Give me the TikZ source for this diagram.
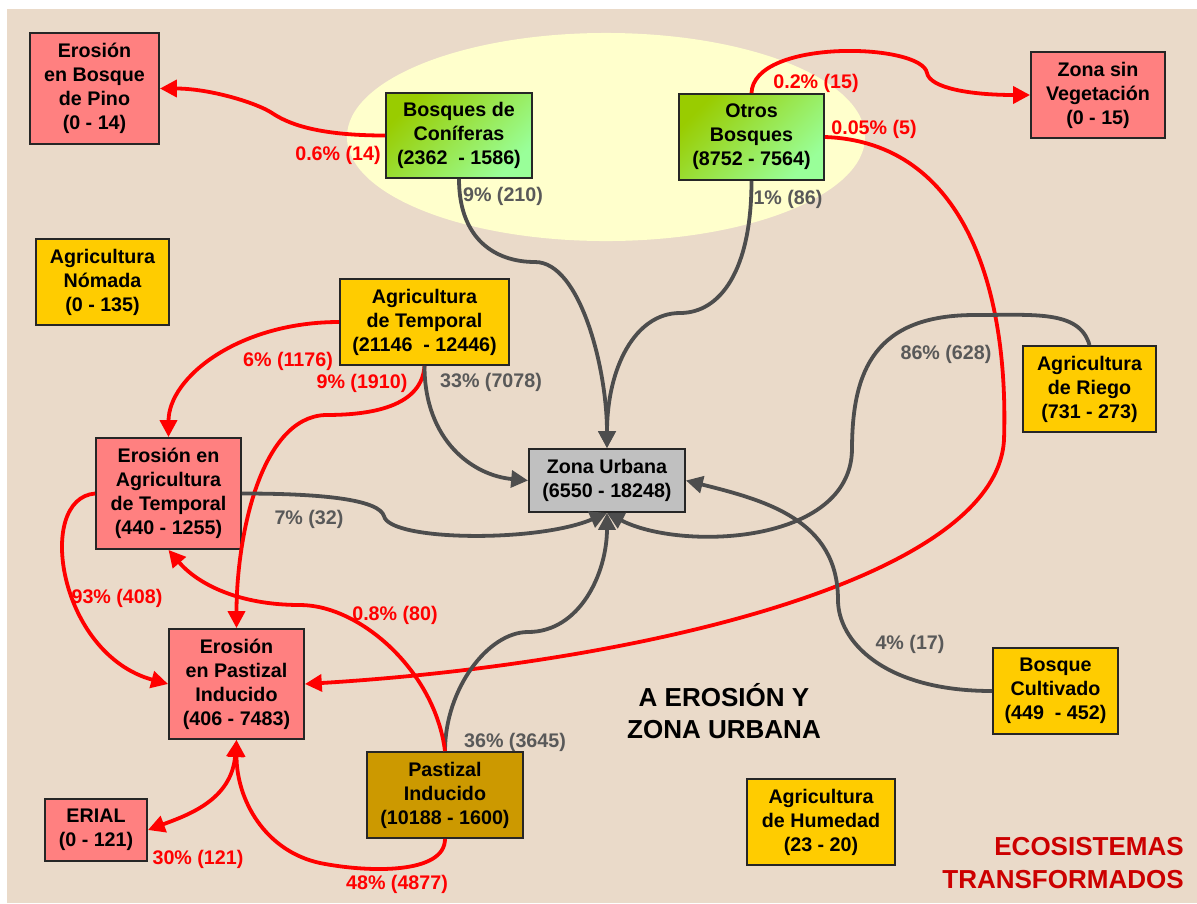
\documentclass[tikz,border=0pt]{standalone}
\usepackage{fontspec}
\setmainfont{Liberation Sans}
\usetikzlibrary{arrows.meta}

\definecolor{fondo}{RGB}{234,218,201}
\definecolor{rosa}{RGB}{255,128,128}
\definecolor{amarillo}{RGB}{255,204,0}
\definecolor{ocre}{RGB}{204,153,0}
\definecolor{urbano}{RGB}{192,192,192}
\definecolor{verdeA}{RGB}{153,204,0}
\definecolor{verdeB}{RGB}{153,255,153}
\definecolor{elipse}{RGB}{255,255,204}
\definecolor{flechagris}{RGB}{77,77,77}
\definecolor{textogris}{RGB}{89,89,89}
\definecolor{titulo}{RGB}{204,0,0}

\tikzset{
  >={Triangle[length=12pt,width=12pt]},
  caja/.style={draw=black!85, line width=1.3pt, align=center, inner sep=0pt,
    font=\fontsize{14}{17}\selectfont\bfseries},
  erosion/.style={caja, fill=rosa},
  agricola/.style={caja, fill=amarillo},
  bosque/.style={caja, top color=verdeA, bottom color=verdeB, shading angle=45},
  flujorojo/.style={draw=red, line width=2.7pt, ->},
  flujogris/.style={draw=flechagris, line width=2.7pt, ->},
  etqroja/.style={text=red, inner sep=0pt, font=\fontsize{14}{17}\selectfont\bfseries},
  etqgris/.style={text=textogris, inner sep=0pt, font=\fontsize{14}{17}\selectfont\bfseries},
}

\begin{document}
\begin{tikzpicture}[x=0.025cm, y=-0.025cm]
\useasboundingbox (0,0) rectangle (1197,903);
\fill[fondo] (7,9) rectangle (1197,903);
\fill[elipse] (606,137) ellipse [x radius=6.475cm, y radius=2.6cm];

% cajas
\node[erosion, minimum width=3.225cm, minimum height=2.775cm] (pino) at (94.5,88.5) {Erosión\\en Bosque\\de Pino\\(0 - 14)};
\node[bosque, minimum width=3.65cm, minimum height=2.125cm] (conif) at (459,135.5) {Bosques de\\Coníferas\\(2362\ \ - 1586)};
\node[bosque, minimum width=3.625cm, minimum height=2.15cm] (otros) at (751.5,137) {Otros\\Bosques\\(8752 - 7564)};
\node[erosion, minimum width=3.35cm, minimum height=2.15cm] (sinveg) at (1098,95) {Zona sin\\Vegetación\\(0 - 15)};
\node[agricola, minimum width=3.325cm, minimum height=2.15cm] (nomada) at (102.5,282) {Agricultura\\Nómada\\(0 - 135)};
\node[agricola, minimum width=4.225cm, minimum height=2.15cm] (temporal) at (424.5,322) {Agricultura\\de Temporal\\(21146\ \ - 12446)};
\node[agricola, minimum width=3.325cm, minimum height=2.15cm] (riego) at (1089.5,389) {Agricultura\\de Riego\\(731 - 273)};
\node[caja, fill=urbano, minimum width=3.9cm, minimum height=1.575cm] (urbana) at (607,480.5) {Zona Urbana\\(6550 - 18248)};
\node[erosion, minimum width=3.625cm, minimum height=2.775cm] (erotemp) at (168.5,493.5) {Erosión en\\Agricultura\\de Temporal\\(440 - 1255)};
\node[erosion, minimum width=3.375cm, minimum height=2.75cm] (eropast) at (236.5,684) {Erosión\\en Pastizal\\Inducido\\(406 - 7483)};
\node[erosion, minimum width=2.55cm, minimum height=1.55cm] (erial) at (96,830) {ERIAL\\(0 - 121)};
\node[caja, fill=ocre, minimum width=3.9cm, minimum height=2.15cm] (pastizal) at (445,795) {Pastizal\\Inducido\\(10188 - 1600)};
\node[agricola, minimum width=3.125cm, minimum height=2.15cm] (cultivado) at (1055.5,691) {Bosque\\Cultivado\\(449\ \ - 452)};
\node[agricola, minimum width=3.7cm, minimum height=2.15cm] (humedad) at (821,822) {Agricultura\\de Humedad\\(23 - 20)};

% flujos
\draw[flujorojo] (conif.west) .. controls +(-70,0) and +(15,10) .. (272,113) .. controls +(-15,-10) and +(50,0) .. (pino.east);
\draw[flujogris] (conif.south) .. controls +(0,60) and +(-40,0) .. (535,262) .. controls +(45,0) and +(0,-80) .. (urbana.north);
\draw[flujogris] (otros.south) .. controls +(0,90) and +(40,0) .. (680,313) .. controls +(-45,0) and +(0,-80) .. (urbana.north);
\draw[flujorojo] (otros.north) .. controls +(2,-55) and +(-5,-30) .. (927,73) .. controls +(3,15) and +(-60,0) .. (sinveg.west);
\draw[flujorojo] (otros.east) .. controls +(140,5) and +(5,-150) .. (1004,440) .. controls +(-8,140) and +(330,-20) .. (eropast.east);
\draw[flujorojo] (temporal.west) .. controls +(-100,0) and +(0,-60) .. (erotemp.north);
\draw[flujorojo] (temporal.south) .. controls +(-3,45) and +(35,0) .. (325,415) .. controls +(-65,3) and +(0,-90) .. (eropast.north);
\draw[flujogris] (temporal.south) .. controls +(0,75) and +(-55,-5) .. (urbana.west);
\draw[flujogris] (riego.north) .. controls +(-10,-35) and +(60,0) .. (975,315) .. controls +(-100,0) and +(0,-80) .. (852,450) .. controls +(-2,95) and +(73,38) .. (urbana.south);
\draw[flujogris] (erotemp.east) .. controls +(90,0) and +(-5,-15) .. (384,516) .. controls +(5,25) and +(-70,30) .. (urbana.south);
\draw[flujogris] (pastizal.north) .. controls +(0,-62) and +(-40,0) .. (528,632) .. controls +(52,0) and +(0,60) .. (urbana.south);
\draw[flujorojo] (pastizal.north) .. controls +(-10,-80) and +(60,0) .. (300,605) .. controls +(-60,0) and +(30,35) .. (erotemp.south);
\draw[flujorojo] (pastizal.south) .. controls +(0,35) and +(50,10) .. (320,863) .. controls +(-55,-12) and +(0,60) .. (eropast.south);
\draw[flujorojo, <->] (eropast.south) .. controls +(-5,60) and +(40,-15) .. (erial.east);
\draw[flujorojo] (erotemp.west) .. controls +(-60,5) and +(-110,-30) .. (eropast.west);
\draw[flujogris] (cultivado.west) .. controls +(-110,0) and +(0,40) .. (838,600) .. controls +(0,-80) and +(80,20) .. (urbana.east);

% porcentajes
\node[etqroja] (pPino) at (338,155) {0.6\% (14)};
\node[etqgris] (pConif) at (503,196) {9\% (210)};
\node[etqroja] (pSinveg) at (816,83) {0.2\% (15)};
\node[etqroja] (pOtros) at (874,129) {0.05\% (5)};
\node[etqgris] (pOtrosUrb) at (788,199) {1\% (86)};
\node[etqroja] (pTempEro) at (288,361) {6\% (1176)};
\node[etqroja] (pTempPast) at (362,383) {9\% (1910)};
\node[etqgris] (pTempUrb) at (491,382) {33\% (7078)};
\node[etqgris] (pRiego) at (946,354) {86\% (628)};
\node[etqgris] (pEroUrb) at (309,519) {7\% (32)};
\node[etqroja] (pEroPast) at (117,598) {93\% (408)};
\node[etqroja] (pPastEro) at (395,615) {0.8\% (80)};
\node[etqgris] (pPastUrb) at (515,742) {36\% (3645)};
\node[etqroja] (pErial) at (198,859) {30\% (121)};
\node[etqroja] (pPastPast) at (397,884) {48\% (4877)};
\node[etqgris] (pCultivado) at (910,644) {4\% (17)};

% titulos
\node[align=center, font=\fontsize{18.5}{23}\selectfont\bfseries] (titulo) at (724,711) {A EROSIÓN Y\\ZONA URBANA};
\node[align=right, anchor=east, inner sep=0pt, text=titulo, font=\fontsize{18.5}{23}\selectfont\bfseries] (ecosistemas) at (1184,863) {ECOSISTEMAS\\TRANSFORMADOS};
\end{tikzpicture}
\end{document}
